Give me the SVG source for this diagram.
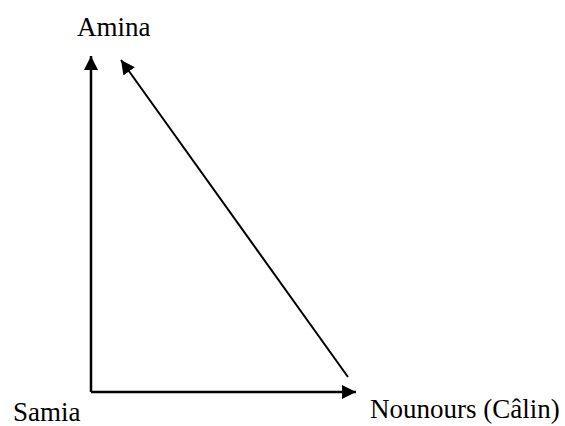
<svg xmlns="http://www.w3.org/2000/svg" width="565" height="426" viewBox="0 0 565 426">
<style>
.lbl{font-family:"Liberation Serif","Times New Roman",serif;font-size:27px;fill:#000}
.c{stroke:#000;fill:none}
</style>
<defs>
<marker id="ah" markerUnits="userSpaceOnUse" markerWidth="16" markerHeight="14" refX="14" refY="7" orient="auto">
<path d="M0,0 L14,7 L0,14 Z" fill="#000"/>
</marker>
</defs>
<rect width="565" height="426" fill="#fff"/>
<g id="connectors">
<polyline class="c" stroke-width="2.5" points="91,392 91,56" marker-end="url(#ah)"/>
<line class="c" stroke-width="2.5" x1="91" y1="392" x2="356" y2="392" marker-end="url(#ah)"/>
<line class="c" stroke-width="2" x1="348" y1="377" x2="121" y2="60" marker-end="url(#ah)"/>
</g>
<g id="amina"><text class="lbl" x="77" y="36">Amina</text></g>
<g id="samia"><text class="lbl" x="13" y="421">Samia</text></g>
<g id="nounours"><text class="lbl" x="370" y="418">Nounours (Câlin)</text></g>
</svg>
